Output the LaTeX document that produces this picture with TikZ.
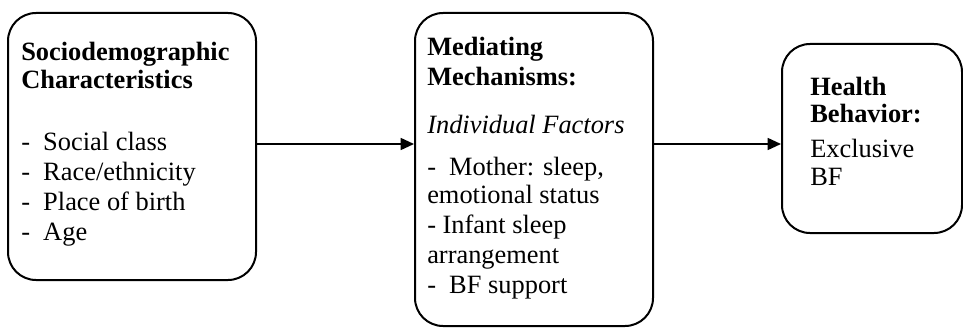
\documentclass[tikz,border=0pt]{standalone}
\usepackage{fontspec}
\setmainfont{Liberation Serif}
\usetikzlibrary{arrows.meta,fit}

\tikzset{
  box/.style={draw,line width=1.5pt,rounded corners=21pt,inner sep=0pt},
  boxtext/.style={anchor=north west,align=left,inner sep=0pt,font=\fontsize{19.8pt}{22.5pt}\selectfont},
  arr/.style={-{Triangle[length=10pt,width=9pt]},line width=1.2pt}
}

\begin{document}
\begin{tikzpicture}[x=0.75pt,y=-0.75pt]
\useasboundingbox (0,0) rectangle (963,328);
\node[box,fit={(8,13) (256,280)}] (socio) {};
\node[boxtext] (sociotext) at (21,42) {\textbf{Sociodemographic}\\[-1.5pt]
\textbf{Characteristics}\\[24pt]
-~~Social class\\
-~~Race/ethnicity\\
-~~Place of birth\\
-~~Age};
\node[box,fit={(415,13) (653,326)}] (mech) {};
\node[boxtext] (mechtext) at (427,37) {\textbf{Mediating}\\
\textbf{Mechanisms:}\\[13.5pt]
\textit{Individual Factors}\\[9pt]
-~~Mother: sleep,\\[-1.5pt]
emotional status\\
- Infant sleep\\
arrangement\\
-~~BF support};
\node[box,fit={(782,44) (962,233)}] (health) {};
\node[boxtext] (healthtext) at (810,77) {\textbf{Health}\\[-2.25pt]
\textbf{Behavior:}\\[3.75pt]
Exclusive\\[-1.5pt]
BF};
\coordinate (mid) at (0,144);
\draw[arr] (socio.east |- mid) -- (mech.west |- mid);
\draw[arr] (mech.east |- mid) -- (health.west |- mid);
\end{tikzpicture}
\end{document}
